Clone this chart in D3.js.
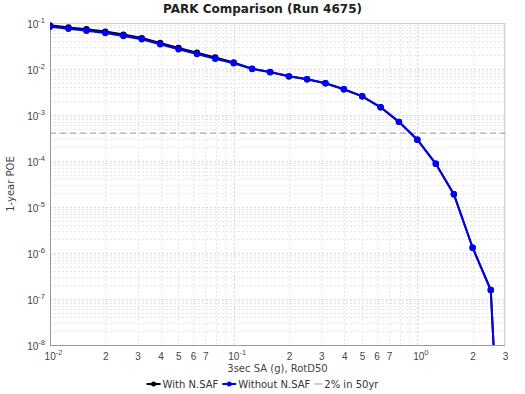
<!DOCTYPE html>
<html><head><meta charset="utf-8">
<script src="https://cdn.jsdelivr.net/npm/d3@7"></script>
<style>body{margin:0;background:#fff}svg{display:block;font-family:"DejaVu Sans",sans-serif}</style>
</head><body><svg id="c" width="525" height="394"></svg>
<script>
const imls = [0.01,0.0126,0.0158,0.02,0.0251,0.0316,0.0398,0.0501,0.0631,0.0794,0.1,0.126,0.158,0.2,0.251,0.316,0.398,0.501,0.631,0.794,1.0,1.26,1.58,2.0,2.51,3.16];
const withNSAF = [0.089,0.080,0.073,0.065,0.056,0.047,0.037,0.0288,0.0226,0.0178,0.0139,0.0102,0.0086,0.00693,0.00597,0.00489,0.00362,0.00255,0.00147,0.00071,0.00029,8.7e-5,1.9e-5,1.3e-6,1.57e-7,2e-15];
const withoutNSAF = [0.083,0.0752,0.068,0.0607,0.0522,0.0442,0.0344,0.0268,0.0212,0.0167,0.0133,0.0100,0.00848,0.00693,0.00597,0.00489,0.00362,0.00255,0.00147,0.00071,0.00029,8.7e-5,1.9e-5,1.3e-6,1.57e-7,2e-15];
const refPOE = [0.000404];
const xTickVals = [0.01,0.02,0.03,0.04,0.05,0.06,0.07,0.1,0.2,0.3,0.4,0.5,0.6,0.7,1,2,3];
const yTickVals = [1e-1,1e-2,1e-3,1e-4,1e-5,1e-6,1e-7,1e-8];
const seriesNames = ["With N.SAF","Without N.SAF","2% in 50yr"];
const seriesColors = ["#000000","#0000ff","#999999"];

const L=50,R=505,T=23,B=345;
const svg=d3.select("#c");
const x=d3.scaleLog().domain([0.01,3]).range([L,R]);
const y=d3.scaleLog().domain([1e-8,1e-1]).range([B,T]);

svg.append("text").attr("x",262.5).attr("y",13).attr("text-anchor","middle")
  .attr("font-size",12).attr("font-weight","bold").attr("fill","#222").text("PARK Comparison (Run 4675)");

// grid
const g=svg.append("g");
const xMinor=[],yMinor=[];
[0.01,0.1,1].forEach(d=>{for(let m=1;m<10;m++){const v=d*m;if(v<=3.0001)xMinor.push(v);}});
[1e-8,1e-7,1e-6,1e-5,1e-4,1e-3,1e-2].forEach(d=>{for(let m=1;m<10;m++)yMinor.push(d*m);});
g.selectAll(".vx").data(xMinor).join("line").attr("x1",d=>Math.round(x(d))+0.5).attr("x2",d=>Math.round(x(d))+0.5)
  .attr("y1",T).attr("y2",B).attr("stroke",d=>[0.01,0.1,1].includes(d)?"#d8d8d8":"#e6e6e6").attr("stroke-dasharray","2,2");
g.selectAll(".hy").data(yMinor).join("line").attr("y1",d=>Math.round(y(d))+0.5).attr("y2",d=>Math.round(y(d))+0.5)
  .attr("x1",L).attr("x2",R).attr("stroke",d=>Math.abs(Math.log10(d)%1)<1e-6?"#d8d8d8":"#e6e6e6").attr("stroke-dasharray","2,2");

// border
svg.append("rect").attr("x",L+0.5).attr("y",T+0.5).attr("width",R-L-1).attr("height",B-T).attr("fill","none").attr("stroke","#d0d0d0");
svg.append("line").attr("x1",L+0.5).attr("x2",L+0.5).attr("y1",T).attr("y2",B).attr("stroke","#999");
svg.append("line").attr("x1",L).attr("x2",R).attr("y1",B+0.5).attr("y2",B+0.5).attr("stroke","#999");

// axes labels
function sup(sel,exp){sel.append("tspan").text("10");sel.append("tspan").attr("dy",-5).attr("font-size",7.5).text(exp);}
const xa=svg.append("g").attr("transform",`translate(0,${B})`).call(d3.axisBottom(x).tickValues(xTickVals).tickSize(0).tickFormat(""));
xa.select(".domain").remove();
xa.selectAll(".tick").each(function(d){
  const t=d3.select(this).append("text").attr("y",15).attr("fill","#444").attr("font-size",10).attr("text-anchor","middle");
  const e=Math.round(Math.log10(d));
  if(Math.abs(Math.log10(d)-e)<1e-6){sup(t,e===0?"0":String(e));t.attr("dx",3);}
  else t.text(Math.round(d/Math.pow(10,Math.floor(Math.log10(d)+1e-9))));
});
const ya=svg.append("g").attr("transform",`translate(${L},0)`).call(d3.axisLeft(y).tickValues(yTickVals).tickSize(0).tickFormat(""));
ya.select(".domain").remove();
ya.selectAll(".tick").each(function(d){
  const t=d3.select(this).append("text").attr("x",-5).attr("y",4).attr("fill","#444").attr("font-size",10).attr("text-anchor","end");
  sup(t,String(Math.round(Math.log10(d))));
});
svg.append("text").attr("x",(L+R)/2).attr("y",372).attr("text-anchor","middle").attr("font-size",10).attr("fill","#444").text("3sec SA (g), RotD50");
svg.append("text").attr("transform",`translate(14,${(T+B)/2}) rotate(-90)`).attr("text-anchor","middle").attr("font-size",10).attr("fill","#444").text("1-year POE");

// clip
svg.append("clipPath").attr("id","cp").append("rect").attr("x",L).attr("y",T-4).attr("width",R-L+4).attr("height",B-T+4);
const plot=svg.append("g").attr("clip-path","url(#cp)");
plot.append("line").attr("x1",L).attr("x2",R).attr("y1",y(refPOE[0])).attr("y2",y(refPOE[0]))
  .attr("stroke",seriesColors[2]).attr("stroke-dasharray","6,4").attr("stroke-width",1);
const line=d3.line().x((d,i)=>x(imls[i])).y(d=>y(d));
[withNSAF,withoutNSAF].forEach((s,k)=>{
  plot.append("path").attr("d",line(s)).attr("fill","none").attr("stroke",seriesColors[k]).attr("stroke-width",2);
  plot.selectAll(null).data(s).join("circle").attr("cx",(d,i)=>x(imls[i])).attr("cy",d=>y(d)).attr("r",3.2).attr("fill",seriesColors[k]);
});

// legend, centered
const lg=svg.append("g");
let cx=0;
const ly=384;
seriesNames.forEach((n,i)=>{
  const isRef=i===2, w=isRef?8:14;
  const it=lg.append("g").attr("transform",`translate(${cx},0)`);
  it.append("line").attr("x1",0).attr("x2",w).attr("y1",ly).attr("y2",ly).attr("stroke",seriesColors[i]).attr("stroke-width",isRef?1:2);
  if(!isRef)it.append("circle").attr("cx",w/2).attr("cy",ly).attr("r",2.5).attr("fill",seriesColors[i]);
  const t=it.append("text").attr("x",w+2).attr("y",ly+3.5).attr("font-size",10).attr("fill","#333").text(n);
  cx+=w+2+t.node().getComputedTextLength()+4;
});
lg.attr("transform",`translate(${262.5-(cx-4)/2},0)`);
</script></body></html>
